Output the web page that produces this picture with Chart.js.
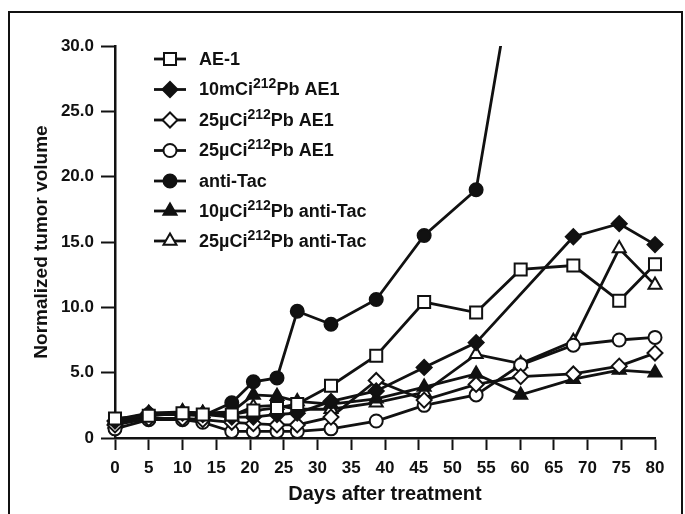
<!DOCTYPE html>
<html>
<head>
<meta charset="utf-8">
<script src="https://cdn.jsdelivr.net/npm/chart.js@4/dist/chart.umd.min.js"></script>
<style>
    body { margin: 0; background: #fff; }
    #wrap { position: relative; width: 685px; height: 514px; overflow: hidden; }
    #frame { position: absolute; left: 8px; top: 11px; width: 671px; height: 520px; border: 2px solid #111; }
    canvas { position: absolute; left: 0; top: 0; }
</style>
</head>
<body>
<div id="wrap">
    <div id="frame"></div>
    <canvas id="chart" width="685" height="514"></canvas>
</div>
<script>
// ---------- DATA ----------
const days = [0, 5, 10, 13, 17.3, 20.5, 24, 27, 32, 38.7, 45.8, 53.5, 60.1, 67.9, 74.7, 80];

const ae1       = [1.5, 1.7, 1.9, 1.8, 1.8, 2.1, 2.3, 2.6, 4.0, 6.3, 10.4, 9.6, 12.9, 13.2, 10.5, 13.3];
const pb10mAE1  = [1.3, 1.9, 1.9, 1.8, 1.6, 1.6, 1.8, 1.9, 2.8, 3.6, 5.4, 7.3, null, 15.4, 16.4, 14.8];
const pb25AE1a  = [1.0, 1.5, 1.5, 1.4, 1.2, 1.1, 1.0, 1.0, 1.6, 4.4, 2.9, 4.1, 4.7, 4.9, 5.5, 6.5];
const pb25AE1b  = [0.7, 1.4, 1.4, 1.2, 0.5, 0.5, 0.5, 0.5, 0.7, 1.3, 2.5, 3.3, 5.6, 7.1, 7.5, 7.7];
const antiTac   = [1.2, 1.8, 1.8, 1.7, 2.7, 4.3, 4.6, 9.7, 8.7, 10.6, 15.5, 19.0, 39, null, null, null]; // goes off scale
const pb10Tac   = [1.1, 1.7, 2.0, 1.9, 2.0, 3.3, 3.2, 2.8, 2.6, 3.0, 3.9, 4.9, 3.3, 4.5, 5.2, 5.0];
const pb25Tac   = [1.4, 1.9, 2.0, 1.9, 1.7, 2.4, 2.5, 2.2, 2.2, 2.7, 3.5, 6.4, 5.7, 7.4, 14.5, 11.7];

const yTicks = [0, 5, 10, 15, 20, 25, 30];

// legend label parts: [before, superscript, after]
const labels = [
    ["AE-1", "", ""],
    ["10mCi", "212", "Pb AE1"],
    ["25\u00B5Ci", "212", "Pb AE1"],
    ["25\u00B5Ci", "212", "Pb AE1"],
    ["anti-Tac", "", ""],
    ["10\u00B5Ci", "212", "Pb anti-Tac"],
    ["25\u00B5Ci", "212", "Pb anti-Tac"]
];

const FONT = "'Liberation Sans', Arial, sans-serif";
const INK = "#111";

// ---------- SERIES ----------
function toPoints(vals) {
    let pts = [];
    vals.forEach((v, i) => { if (v !== null) pts.push({ x: days[i], y: v }); });
    return pts;
}

function series(label, vals, style, radius, filled) {
    return {
        label: label,
        data: toPoints(vals),
        borderColor: INK,
        borderWidth: 2.8,
        pointStyle: style,
        pointRadius: radius,
        pointBorderWidth: 2,
        pointBorderColor: INK,
        pointBackgroundColor: filled ? INK : "#fff",
        pointHoverRadius: radius,
        tension: 0,
        clip: { left: 12, top: 0, right: 12, bottom: 12 }
    };
}

const datasets = [
    series(labels[0].join(""), ae1, "rect", 8.5, false),
    series(labels[1].join(""), pb10mAE1, "rectRot", 7.5, true),
    series(labels[2].join(""), pb25AE1a, "rectRot", 7.5, false),
    series(labels[3].join(""), pb25AE1b, "circle", 6.5, false),
    series(labels[4].join(""), antiTac, "circle", 6.5, true),
    series(labels[5].join(""), pb10Tac, "triangle", 7.5, true),
    series(labels[6].join(""), pb25Tac, "triangle", 7.5, false)
];

// ---------- LEGEND ----------
function marker(ctx, ds, x, y) {
    const opts = {
        pointStyle: ds.pointStyle, radius: ds.pointRadius, borderWidth: ds.pointBorderWidth,
        rotation: 0
    };
    ctx.save();
    ctx.fillStyle = ds.pointBackgroundColor;
    ctx.strokeStyle = ds.pointBorderColor;
    ctx.lineWidth = ds.pointBorderWidth;
    Chart.helpers.drawPoint(ctx, opts, x, y);
    ctx.restore();
}

const legendPlugin = {
    id: "sketchLegend",
    afterDatasetsDraw(chart) {
        const ctx = chart.ctx;
        const x0 = 154, x1 = 186, tx = 199;
        const rowY = [59, 89.5, 120, 150.5, 181, 211, 241];
        chart.data.datasets.forEach((ds, i) => {
            const y = rowY[i];
            ctx.save();
            ctx.strokeStyle = INK;
            ctx.lineWidth = 2.8;
            ctx.beginPath();
            ctx.moveTo(x0, y);
            ctx.lineTo(x1, y);
            ctx.stroke();
            ctx.restore();
            marker(ctx, ds, (x0 + x1) / 2, y);

            const parts = labels[i];
            ctx.save();
            ctx.fillStyle = INK;
            ctx.textBaseline = "middle";
            let x = tx;
            ctx.font = "bold 18px " + FONT;
            ctx.fillText(parts[0], x, y + 1);
            x += ctx.measureText(parts[0]).width;
            if (parts[1]) {
                ctx.font = "bold 14px " + FONT;
                ctx.fillText(parts[1], x, y - 5);
                x += ctx.measureText(parts[1]).width;
                ctx.font = "bold 18px " + FONT;
                ctx.fillText(parts[2], x, y + 1);
            }
            ctx.restore();
        });
    }
};

// ---------- CHART ----------
const ctx = document.getElementById("chart").getContext("2d");

new Chart(ctx, {
    type: "line",
    data: { datasets: datasets },
    plugins: [legendPlugin],
    options: {
        responsive: false,
        animation: false,
        layout: { padding: { left: 26, right: 30, top: 46, bottom: 8 } },
        plugins: {
            legend: { display: false },
            tooltip: { enabled: false }
        },
        scales: {
            x: {
                type: "linear",
                min: 0,
                max: 80,
                afterFit: scale => { scale.height = 68; },
                border: { display: true, color: INK, width: 2.5 },
                grid: { display: true, drawOnChartArea: false, tickLength: 12, tickWidth: 2, tickColor: INK },
                ticks: {
                    stepSize: 5,
                    padding: 8,
                    color: INK,
                    font: { family: FONT, size: 17, weight: "bold" }
                },
                title: {
                    display: true,
                    text: "Days after treatment",
                    color: INK,
                    padding: { top: 0, bottom: 0 },
                    font: { family: FONT, size: 20, weight: "bold" }
                }
            },
            y: {
                min: 0,
                max: 30,
                afterFit: scale => { scale.width = 89; },
                afterBuildTicks: scale => { scale.ticks = yTicks.map(v => ({ value: v })); },
                border: { display: true, color: INK, width: 2.5 },
                grid: { display: true, drawOnChartArea: false, tickLength: 14, tickWidth: 2, tickColor: INK },
                ticks: {
                    padding: 7,
                    color: INK,
                    font: { family: FONT, size: 17, weight: "bold" },
                    callback: v => v === 0 ? "0" : v.toFixed(1)
                },
                title: {
                    display: true,
                    text: "Normalized tumor volume",
                    color: INK,
                    padding: { top: 4, bottom: 0 },
                    font: { family: FONT, size: 19, weight: "bold" }
                }
            }
        }
    }
});
</script>
</body>
</html>
